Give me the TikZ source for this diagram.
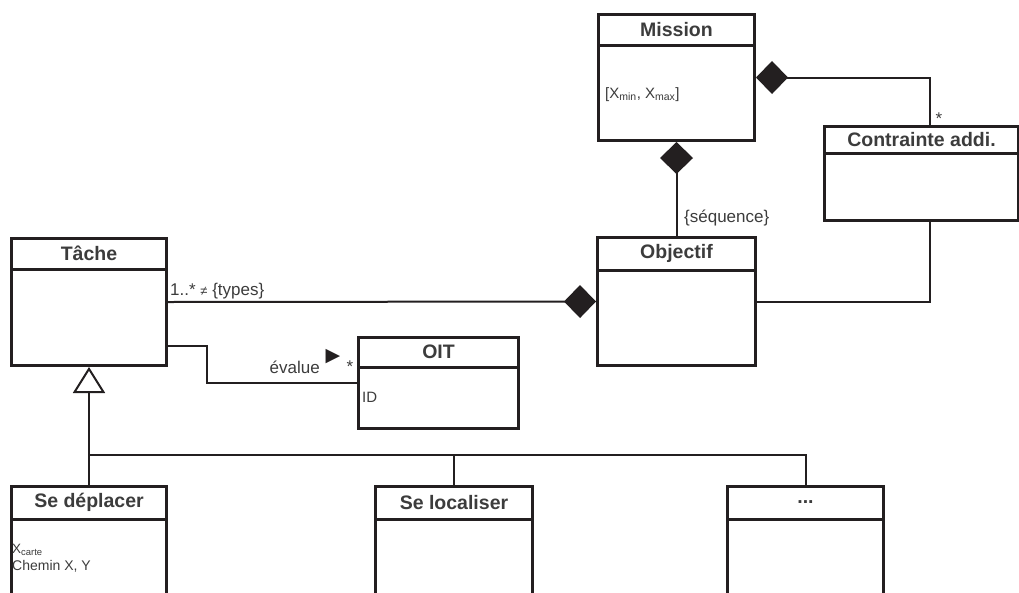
\documentclass[tikz,border=0pt]{standalone}
\usepackage{fontspec}
\setmainfont{Liberation Sans}
\newfontfamily\symfont{DejaVu Sans}
\usetikzlibrary{arrows.meta, positioning}

\definecolor{ink}{HTML}{231F20}
\definecolor{txt}{HTML}{3C3C3C}
\newcommand{\threedots}{...}

\begin{document}
\begin{tikzpicture}[
    x=1pt, y=-1pt,
    cls/.style 2 args={draw=ink, line width=3pt, fill=white, anchor=north west, inner sep=0pt, minimum width=#1, minimum height=#2},
    hdr/.style={anchor=north, inner sep=0pt, minimum height=#1, text=txt, font=\fontsize{19.5}{22}\selectfont\bfseries},
    div/.style={draw=ink, line width=2.5pt},
    line/.style={draw=ink, line width=2pt},
    comp/.style={{Diamond[length=32pt, width=33pt, line width=0pt]}-},
    gen/.style={-{Triangle[open, length=26pt, width=32pt, line width=2pt]}},
    lbl/.style={inner sep=0pt, text=txt, font=\fontsize{17}{20}\selectfont},
    attr/.style={inner sep=0pt, text=txt, font=\fontsize{15}{17}\selectfont},
    >=Stealth
]
\useasboundingbox (0,0) rectangle (1019,592);
\clip (0,0) rectangle (1019,592);

% Classes
\node[cls={156}{126}] (mission) at (597,13) {};
\node[cls={194}{94}] (contr) at (823,125) {};
\node[cls={158}{128}] (objectif) at (596,236) {};
\node[cls={155}{127}] (tache) at (10,237) {};
\node[cls={160}{91}] (oit) at (357,336) {};
\node[cls={155}{109}] (deplacer) at (10,485) {};
\node[cls={157}{109}] (localiser) at (374,485) {};
\node[cls={156}{109}] (autre) at (726,485) {};

% Headers
\foreach \n/\t/\h in {mission/Mission/32, contr/Contrainte addi./28, objectif/Objectif/34,
    tache/Tâche/32, oit/OIT/31, deplacer/Se déplacer/34, localiser/Se localiser/34, autre/\threedots/34} {
    \node[hdr=\h] (\n-h) at (\n.north) {\t};
    \draw[div] (\n.west |- \n-h.south) -- (\n.east |- \n-h.south);
}

% Attributes
\node[attr, anchor=base west] (missionA) at (605,98) {[X\textsubscript{min}, X\textsubscript{max}]};
\node[attr, anchor=base west] (oitA) at (362,402) {ID};
\node[attr, anchor=base west, font=\fontsize{13.5}{15}\selectfont] (deplacerA) at (12,553) {X\textsubscript{carte}};
\node[attr, anchor=base west, font=\fontsize{14}{16}\selectfont] (deplacerB) at (12,570) {Chemin X, Y};

% Compositions
\draw[line, comp] (mission.east) -| ([xshift=8pt]contr.north);
\draw[line, comp] (mission.south) -- (objectif.north);
\draw[line, comp] (objectif.west) -- (tache.east);
\draw[line] (objectif.east) -| ([xshift=8pt]contr.south);

% Association
\draw[line] ([yshift=-44pt]tache.east) -- ++(39,0) |- (oit.west);

% Generalisation
\coordinate (bus) at (0,455);
\draw[line, gen] (deplacer.north) -- (tache.south);
\draw[line] (deplacer.north |- bus) -- (autre.north |- bus) -- (autre.north);
\draw[line] (localiser.north |- bus) -- (localiser.north);

% Labels
\node[lbl, anchor=west] (seqLbl) at (684,218) {\{séquence\}};
\node[lbl] (contrMult) at (939,119) {*};
\node[lbl, anchor=west] (typesLbl) at (170,291) {1..* {\fontsize{13}{13}\selectfont≠} \{types\}};
\node[lbl, anchor=east] (evalLbl) at (320,367) {évalue};
\node[lbl, text=ink, font=\symfont\fontsize{19}{20}\selectfont] (evalDir) at (333,357) {▶};
\node[lbl] (oitMult) at (350,367) {*};
\end{tikzpicture}
\end{document}
